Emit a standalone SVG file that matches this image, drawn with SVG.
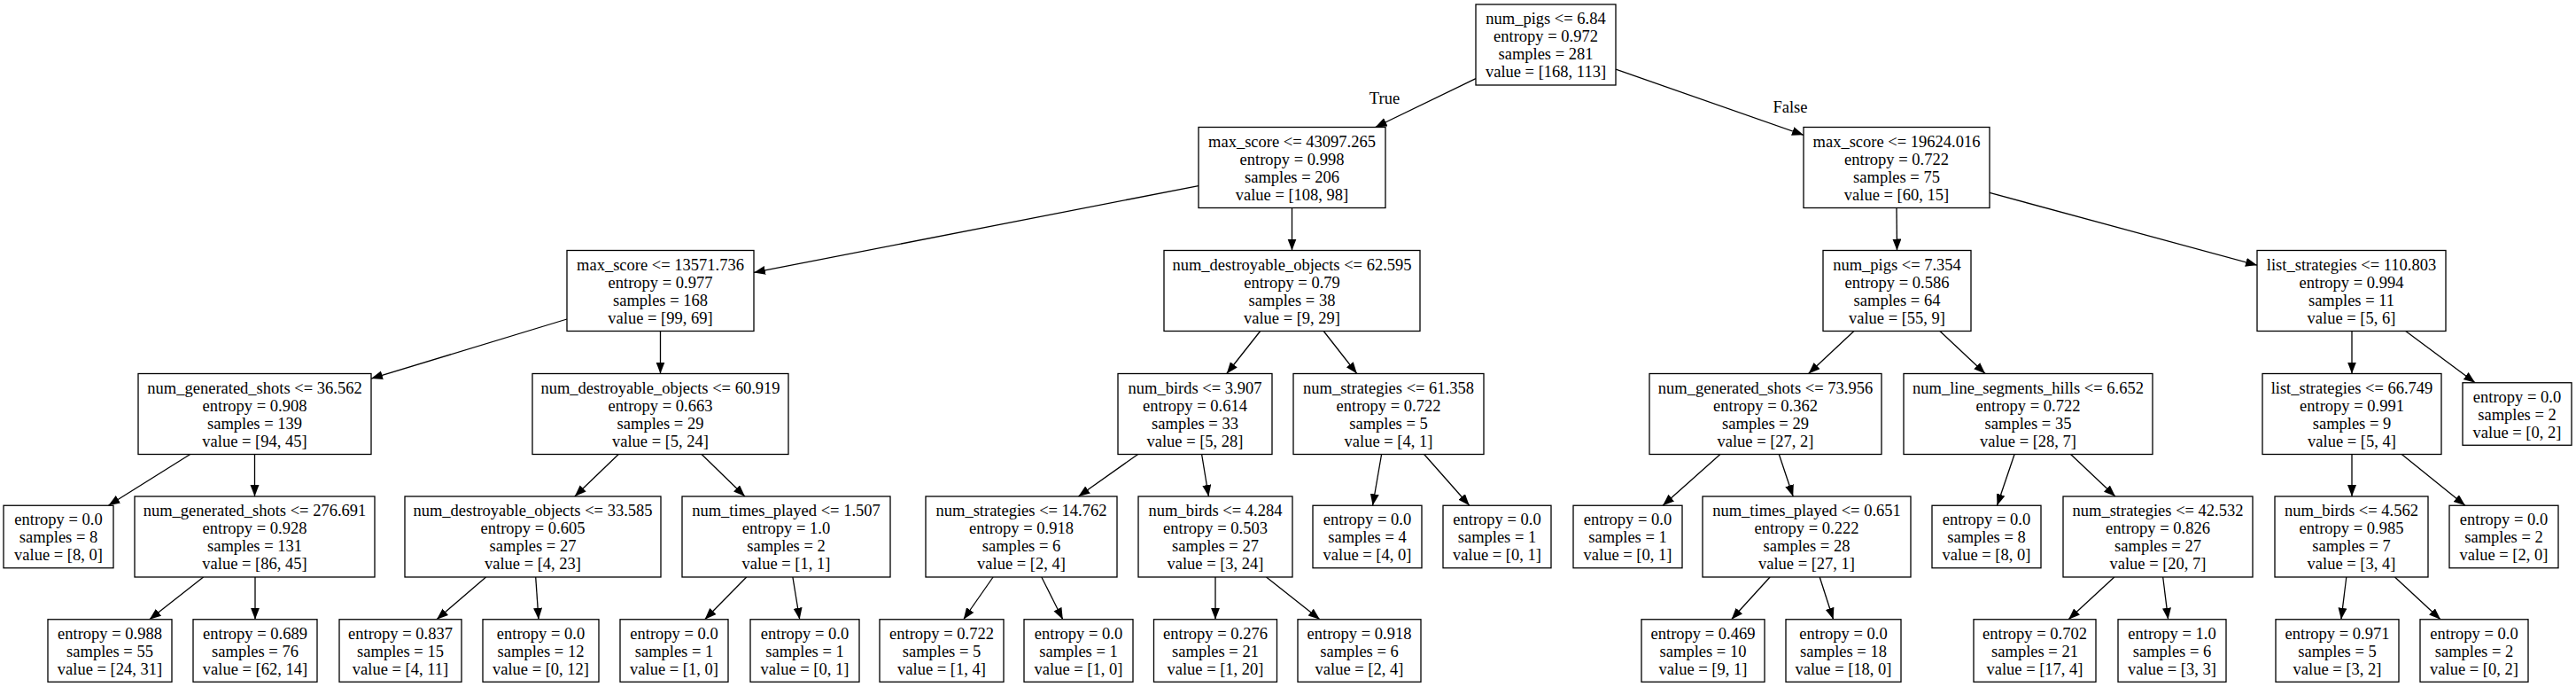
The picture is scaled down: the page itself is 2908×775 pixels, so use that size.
<svg xmlns="http://www.w3.org/2000/svg" width="2908" height="775" viewBox="0 0 2908 775">
<style>
.n rect{fill:#fff;stroke:#000;stroke-width:1.3}
.n text,.lbl{font-family:"Liberation Serif","Times New Roman",serif;font-size:18.5px;text-anchor:middle;fill:#000}
.e line{stroke:#000;stroke-width:1.3;marker-end:url(#ah)}
</style>
<defs>
<marker id="ah" markerUnits="userSpaceOnUse" markerWidth="14" markerHeight="11" refX="13" refY="5" orient="auto">
<path d="M0,0 L13,5 L0,10 z" fill="#000"/>
</marker>
</defs>
<rect width="2908" height="775" fill="#fff"/>
<g id="connectors" class="e">
<line x1="1666" y1="88.7" x2="1552.6" y2="143.5"/>
<line x1="1824" y1="78.1" x2="2036" y2="152.3"/>
<line x1="1353" y1="209.6" x2="851" y2="307.4"/>
<line x1="1458.5" y1="234.5" x2="1458.5" y2="282.5"/>
<line x1="2141" y1="234.5" x2="2141.5" y2="282.5"/>
<line x1="2246" y1="217.4" x2="2548" y2="299.2"/>
<line x1="640" y1="360" x2="419" y2="427.1"/>
<line x1="745.5" y1="373.5" x2="745.5" y2="421.5"/>
<line x1="1422.7" y1="373.5" x2="1384.8" y2="421.5"/>
<line x1="1494.2" y1="373.5" x2="1531.8" y2="421.5"/>
<line x1="2092.9" y1="373.5" x2="2041.6" y2="421.5"/>
<line x1="2189.9" y1="373.5" x2="2241.1" y2="421.5"/>
<line x1="2655" y1="373.5" x2="2655" y2="421.5"/>
<line x1="2715.7" y1="373.5" x2="2794.1" y2="431.75"/>
<line x1="214.7" y1="512.5" x2="122.4" y2="570.25"/>
<line x1="287.5" y1="512.5" x2="287.5" y2="560"/>
<line x1="698.2" y1="512.5" x2="648.8" y2="560"/>
<line x1="792.1" y1="512.5" x2="840.9" y2="560"/>
<line x1="1284.6" y1="512.5" x2="1217.4" y2="560"/>
<line x1="1356.6" y1="512.5" x2="1364.4" y2="560"/>
<line x1="1559.6" y1="512.5" x2="1549.6" y2="570.25"/>
<line x1="1607.7" y1="512.5" x2="1658.8" y2="570.25"/>
<line x1="1941.9" y1="512.5" x2="1877.1" y2="570.25"/>
<line x1="2008.3" y1="512.5" x2="2024.2" y2="560"/>
<line x1="2274.1" y1="512.5" x2="2254.5" y2="570.25"/>
<line x1="2337.6" y1="512.5" x2="2387.9" y2="560"/>
<line x1="2655" y1="512.5" x2="2655" y2="560"/>
<line x1="2711.3" y1="512.5" x2="2782.9" y2="570.25"/>
<line x1="229.6" y1="651" x2="168.8" y2="698.75"/>
<line x1="288" y1="651" x2="288" y2="698.75"/>
<line x1="548.6" y1="651" x2="493" y2="698.75"/>
<line x1="604.7" y1="651" x2="608" y2="698.75"/>
<line x1="842.7" y1="651" x2="795.7" y2="698.75"/>
<line x1="894.9" y1="651" x2="902.7" y2="698.75"/>
<line x1="1121.1" y1="651" x2="1087.7" y2="698.75"/>
<line x1="1175.8" y1="651" x2="1199.8" y2="698.75"/>
<line x1="1372" y1="651" x2="1372" y2="698.75"/>
<line x1="1429.5" y1="651" x2="1489.9" y2="698.75"/>
<line x1="1998.1" y1="651" x2="1954.6" y2="698.75"/>
<line x1="2054.2" y1="651" x2="2069.6" y2="698.75"/>
<line x1="2386.8" y1="651" x2="2335.1" y2="698.75"/>
<line x1="2441.7" y1="651" x2="2447.6" y2="698.75"/>
<line x1="2648.8" y1="651" x2="2642.9" y2="698.75"/>
<line x1="2703.5" y1="651" x2="2755" y2="698.75"/>
<text class="lbl" x="1563" y="117">True</text>
<text class="lbl" x="2021" y="127">False</text>
</g>
<g id="n0" class="n"><rect x="1666" y="5" width="158" height="91"/><text y="27"><tspan x="1745">num_pigs &lt;= 6.84</tspan><tspan x="1745" dy="20">entropy = 0.972</tspan><tspan x="1745" dy="20">samples = 281</tspan><tspan x="1745" dy="20">value = [168, 113]</tspan></text></g>
<g id="n1" class="n"><rect x="1353" y="143.5" width="211" height="91"/><text y="165.5"><tspan x="1458.5">max_score &lt;= 43097.265</tspan><tspan x="1458.5" dy="20">entropy = 0.998</tspan><tspan x="1458.5" dy="20">samples = 206</tspan><tspan x="1458.5" dy="20">value = [108, 98]</tspan></text></g>
<g id="n2" class="n"><rect x="2036" y="143.5" width="210" height="91"/><text y="165.5"><tspan x="2141">max_score &lt;= 19624.016</tspan><tspan x="2141" dy="20">entropy = 0.722</tspan><tspan x="2141" dy="20">samples = 75</tspan><tspan x="2141" dy="20">value = [60, 15]</tspan></text></g>
<g id="n3" class="n"><rect x="640" y="282.5" width="211" height="91"/><text y="304.5"><tspan x="745.5">max_score &lt;= 13571.736</tspan><tspan x="745.5" dy="20">entropy = 0.977</tspan><tspan x="745.5" dy="20">samples = 168</tspan><tspan x="745.5" dy="20">value = [99, 69]</tspan></text></g>
<g id="n4" class="n"><rect x="1314" y="282.5" width="289" height="91"/><text y="304.5"><tspan x="1458.5">num_destroyable_objects &lt;= 62.595</tspan><tspan x="1458.5" dy="20">entropy = 0.79</tspan><tspan x="1458.5" dy="20">samples = 38</tspan><tspan x="1458.5" dy="20">value = [9, 29]</tspan></text></g>
<g id="n5" class="n"><rect x="2058" y="282.5" width="167" height="91"/><text y="304.5"><tspan x="2141.5">num_pigs &lt;= 7.354</tspan><tspan x="2141.5" dy="20">entropy = 0.586</tspan><tspan x="2141.5" dy="20">samples = 64</tspan><tspan x="2141.5" dy="20">value = [55, 9]</tspan></text></g>
<g id="n6" class="n"><rect x="2548" y="282.5" width="213" height="91"/><text y="304.5"><tspan x="2654.5">list_strategies &lt;= 110.803</tspan><tspan x="2654.5" dy="20">entropy = 0.994</tspan><tspan x="2654.5" dy="20">samples = 11</tspan><tspan x="2654.5" dy="20">value = [5, 6]</tspan></text></g>
<g id="n7" class="n"><rect x="156" y="421.5" width="263" height="91"/><text y="443.5"><tspan x="287.5">num_generated_shots &lt;= 36.562</tspan><tspan x="287.5" dy="20">entropy = 0.908</tspan><tspan x="287.5" dy="20">samples = 139</tspan><tspan x="287.5" dy="20">value = [94, 45]</tspan></text></g>
<g id="n8" class="n"><rect x="601" y="421.5" width="289" height="91"/><text y="443.5"><tspan x="745.5">num_destroyable_objects &lt;= 60.919</tspan><tspan x="745.5" dy="20">entropy = 0.663</tspan><tspan x="745.5" dy="20">samples = 29</tspan><tspan x="745.5" dy="20">value = [5, 24]</tspan></text></g>
<g id="n9" class="n"><rect x="1262" y="421.5" width="174" height="91"/><text y="443.5"><tspan x="1349">num_birds &lt;= 3.907</tspan><tspan x="1349" dy="20">entropy = 0.614</tspan><tspan x="1349" dy="20">samples = 33</tspan><tspan x="1349" dy="20">value = [5, 28]</tspan></text></g>
<g id="n10" class="n"><rect x="1460" y="421.5" width="215" height="91"/><text y="443.5"><tspan x="1567.5">num_strategies &lt;= 61.358</tspan><tspan x="1567.5" dy="20">entropy = 0.722</tspan><tspan x="1567.5" dy="20">samples = 5</tspan><tspan x="1567.5" dy="20">value = [4, 1]</tspan></text></g>
<g id="n11" class="n"><rect x="1862" y="421.5" width="262" height="91"/><text y="443.5"><tspan x="1993">num_generated_shots &lt;= 73.956</tspan><tspan x="1993" dy="20">entropy = 0.362</tspan><tspan x="1993" dy="20">samples = 29</tspan><tspan x="1993" dy="20">value = [27, 2]</tspan></text></g>
<g id="n12" class="n"><rect x="2149" y="421.5" width="281" height="91"/><text y="443.5"><tspan x="2289.5">num_line_segments_hills &lt;= 6.652</tspan><tspan x="2289.5" dy="20">entropy = 0.722</tspan><tspan x="2289.5" dy="20">samples = 35</tspan><tspan x="2289.5" dy="20">value = [28, 7]</tspan></text></g>
<g id="n13" class="n"><rect x="2554" y="421.5" width="202" height="91"/><text y="443.5"><tspan x="2655">list_strategies &lt;= 66.749</tspan><tspan x="2655" dy="20">entropy = 0.991</tspan><tspan x="2655" dy="20">samples = 9</tspan><tspan x="2655" dy="20">value = [5, 4]</tspan></text></g>
<g id="n14" class="n"><rect x="2780" y="431.75" width="123" height="70.5"/><text y="453.5"><tspan x="2841.5">entropy = 0.0</tspan><tspan x="2841.5" dy="20">samples = 2</tspan><tspan x="2841.5" dy="20">value = [0, 2]</tspan></text></g>
<g id="n15" class="n"><rect x="4" y="570.25" width="124" height="70.5"/><text y="592"><tspan x="66">entropy = 0.0</tspan><tspan x="66" dy="20">samples = 8</tspan><tspan x="66" dy="20">value = [8, 0]</tspan></text></g>
<g id="n16" class="n"><rect x="152" y="560" width="271" height="91"/><text y="582"><tspan x="287.5">num_generated_shots &lt;= 276.691</tspan><tspan x="287.5" dy="20">entropy = 0.928</tspan><tspan x="287.5" dy="20">samples = 131</tspan><tspan x="287.5" dy="20">value = [86, 45]</tspan></text></g>
<g id="n17" class="n"><rect x="457" y="560" width="289" height="91"/><text y="582"><tspan x="601.5">num_destroyable_objects &lt;= 33.585</tspan><tspan x="601.5" dy="20">entropy = 0.605</tspan><tspan x="601.5" dy="20">samples = 27</tspan><tspan x="601.5" dy="20">value = [4, 23]</tspan></text></g>
<g id="n18" class="n"><rect x="770" y="560" width="235" height="91"/><text y="582"><tspan x="887.5">num_times_played &lt;= 1.507</tspan><tspan x="887.5" dy="20">entropy = 1.0</tspan><tspan x="887.5" dy="20">samples = 2</tspan><tspan x="887.5" dy="20">value = [1, 1]</tspan></text></g>
<g id="n19" class="n"><rect x="1045" y="560" width="216" height="91"/><text y="582"><tspan x="1153">num_strategies &lt;= 14.762</tspan><tspan x="1153" dy="20">entropy = 0.918</tspan><tspan x="1153" dy="20">samples = 6</tspan><tspan x="1153" dy="20">value = [2, 4]</tspan></text></g>
<g id="n20" class="n"><rect x="1285" y="560" width="174" height="91"/><text y="582"><tspan x="1372">num_birds &lt;= 4.284</tspan><tspan x="1372" dy="20">entropy = 0.503</tspan><tspan x="1372" dy="20">samples = 27</tspan><tspan x="1372" dy="20">value = [3, 24]</tspan></text></g>
<g id="n21" class="n"><rect x="1482" y="570.25" width="123" height="70.5"/><text y="592"><tspan x="1543.5">entropy = 0.0</tspan><tspan x="1543.5" dy="20">samples = 4</tspan><tspan x="1543.5" dy="20">value = [4, 0]</tspan></text></g>
<g id="n22" class="n"><rect x="1629" y="570.25" width="122" height="70.5"/><text y="592"><tspan x="1690">entropy = 0.0</tspan><tspan x="1690" dy="20">samples = 1</tspan><tspan x="1690" dy="20">value = [0, 1]</tspan></text></g>
<g id="n23" class="n"><rect x="1776" y="570.25" width="123" height="70.5"/><text y="592"><tspan x="1837.5">entropy = 0.0</tspan><tspan x="1837.5" dy="20">samples = 1</tspan><tspan x="1837.5" dy="20">value = [0, 1]</tspan></text></g>
<g id="n24" class="n"><rect x="1922" y="560" width="235" height="91"/><text y="582"><tspan x="2039.5">num_times_played &lt;= 0.651</tspan><tspan x="2039.5" dy="20">entropy = 0.222</tspan><tspan x="2039.5" dy="20">samples = 28</tspan><tspan x="2039.5" dy="20">value = [27, 1]</tspan></text></g>
<g id="n25" class="n"><rect x="2181" y="570.25" width="123" height="70.5"/><text y="592"><tspan x="2242.5">entropy = 0.0</tspan><tspan x="2242.5" dy="20">samples = 8</tspan><tspan x="2242.5" dy="20">value = [8, 0]</tspan></text></g>
<g id="n26" class="n"><rect x="2329" y="560" width="214" height="91"/><text y="582"><tspan x="2436">num_strategies &lt;= 42.532</tspan><tspan x="2436" dy="20">entropy = 0.826</tspan><tspan x="2436" dy="20">samples = 27</tspan><tspan x="2436" dy="20">value = [20, 7]</tspan></text></g>
<g id="n27" class="n"><rect x="2568" y="560" width="173" height="91"/><text y="582"><tspan x="2654.5">num_birds &lt;= 4.562</tspan><tspan x="2654.5" dy="20">entropy = 0.985</tspan><tspan x="2654.5" dy="20">samples = 7</tspan><tspan x="2654.5" dy="20">value = [3, 4]</tspan></text></g>
<g id="n28" class="n"><rect x="2765" y="570.25" width="123" height="70.5"/><text y="592"><tspan x="2826.5">entropy = 0.0</tspan><tspan x="2826.5" dy="20">samples = 2</tspan><tspan x="2826.5" dy="20">value = [2, 0]</tspan></text></g>
<g id="n29" class="n"><rect x="54" y="698.75" width="140" height="70.5"/><text y="720.5"><tspan x="124">entropy = 0.988</tspan><tspan x="124" dy="20">samples = 55</tspan><tspan x="124" dy="20">value = [24, 31]</tspan></text></g>
<g id="n30" class="n"><rect x="218" y="698.75" width="140" height="70.5"/><text y="720.5"><tspan x="288">entropy = 0.689</tspan><tspan x="288" dy="20">samples = 76</tspan><tspan x="288" dy="20">value = [62, 14]</tspan></text></g>
<g id="n31" class="n"><rect x="383" y="698.75" width="138" height="70.5"/><text y="720.5"><tspan x="452">entropy = 0.837</tspan><tspan x="452" dy="20">samples = 15</tspan><tspan x="452" dy="20">value = [4, 11]</tspan></text></g>
<g id="n32" class="n"><rect x="545" y="698.75" width="131" height="70.5"/><text y="720.5"><tspan x="610.5">entropy = 0.0</tspan><tspan x="610.5" dy="20">samples = 12</tspan><tspan x="610.5" dy="20">value = [0, 12]</tspan></text></g>
<g id="n33" class="n"><rect x="700" y="698.75" width="122" height="70.5"/><text y="720.5"><tspan x="761">entropy = 0.0</tspan><tspan x="761" dy="20">samples = 1</tspan><tspan x="761" dy="20">value = [1, 0]</tspan></text></g>
<g id="n34" class="n"><rect x="847" y="698.75" width="123" height="70.5"/><text y="720.5"><tspan x="908.5">entropy = 0.0</tspan><tspan x="908.5" dy="20">samples = 1</tspan><tspan x="908.5" dy="20">value = [0, 1]</tspan></text></g>
<g id="n35" class="n"><rect x="993" y="698.75" width="140" height="70.5"/><text y="720.5"><tspan x="1063">entropy = 0.722</tspan><tspan x="1063" dy="20">samples = 5</tspan><tspan x="1063" dy="20">value = [1, 4]</tspan></text></g>
<g id="n36" class="n"><rect x="1156" y="698.75" width="123" height="70.5"/><text y="720.5"><tspan x="1217.5">entropy = 0.0</tspan><tspan x="1217.5" dy="20">samples = 1</tspan><tspan x="1217.5" dy="20">value = [1, 0]</tspan></text></g>
<g id="n37" class="n"><rect x="1302.5" y="698.75" width="139" height="70.5"/><text y="720.5"><tspan x="1372">entropy = 0.276</tspan><tspan x="1372" dy="20">samples = 21</tspan><tspan x="1372" dy="20">value = [1, 20]</tspan></text></g>
<g id="n38" class="n"><rect x="1465" y="698.75" width="139" height="70.5"/><text y="720.5"><tspan x="1534.5">entropy = 0.918</tspan><tspan x="1534.5" dy="20">samples = 6</tspan><tspan x="1534.5" dy="20">value = [2, 4]</tspan></text></g>
<g id="n39" class="n"><rect x="1853" y="698.75" width="139" height="70.5"/><text y="720.5"><tspan x="1922.5">entropy = 0.469</tspan><tspan x="1922.5" dy="20">samples = 10</tspan><tspan x="1922.5" dy="20">value = [9, 1]</tspan></text></g>
<g id="n40" class="n"><rect x="2016" y="698.75" width="130" height="70.5"/><text y="720.5"><tspan x="2081">entropy = 0.0</tspan><tspan x="2081" dy="20">samples = 18</tspan><tspan x="2081" dy="20">value = [18, 0]</tspan></text></g>
<g id="n41" class="n"><rect x="2228" y="698.75" width="138" height="70.5"/><text y="720.5"><tspan x="2297">entropy = 0.702</tspan><tspan x="2297" dy="20">samples = 21</tspan><tspan x="2297" dy="20">value = [17, 4]</tspan></text></g>
<g id="n42" class="n"><rect x="2391" y="698.75" width="122" height="70.5"/><text y="720.5"><tspan x="2452">entropy = 1.0</tspan><tspan x="2452" dy="20">samples = 6</tspan><tspan x="2452" dy="20">value = [3, 3]</tspan></text></g>
<g id="n43" class="n"><rect x="2569" y="698.75" width="139" height="70.5"/><text y="720.5"><tspan x="2638.5">entropy = 0.971</tspan><tspan x="2638.5" dy="20">samples = 5</tspan><tspan x="2638.5" dy="20">value = [3, 2]</tspan></text></g>
<g id="n44" class="n"><rect x="2732" y="698.75" width="122" height="70.5"/><text y="720.5"><tspan x="2793">entropy = 0.0</tspan><tspan x="2793" dy="20">samples = 2</tspan><tspan x="2793" dy="20">value = [0, 2]</tspan></text></g>
</svg>
